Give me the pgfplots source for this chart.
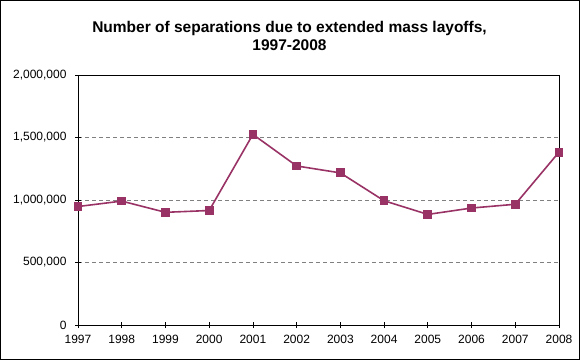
\documentclass[border=0pt]{standalone}
\usepackage{pgfplots}
\pgfplotsset{compat=1.18}
\usepackage{fontspec}
\setmainfont{Liberation Sans}
\definecolor{serie}{HTML}{993366}
\definecolor{gridc}{HTML}{808080}
\begin{document}
\begin{tikzpicture}[x=1pt,y=1pt]
\draw[line width=1pt] (0.5,0.5) rectangle (579.5,359.5);
\node[font=\fontsize{15.5}{18}\selectfont\bfseries, anchor=base, inner sep=0pt] at (289.5,328) {Number of separations due to extended mass layoffs,};
\node[font=\fontsize{15.5}{18}\selectfont\bfseries, anchor=base, inner sep=0pt] at (289.5,310) {1997-2008};
\begin{axis}[at={(78pt,35pt)}, anchor=south west, scale only axis,
  width=481pt, height=250pt,
  xmin=1997, xmax=2008, ymin=0, ymax=2000000,
  xtick={1997,1998,...,2008}, ytick={0,500000,1000000,1500000,2000000},
  scaled y ticks=false,
  tick align=center, tickpos=left, major tick length=6pt,
  tick style={black, line width=0.8pt},
  axis line style={black, line width=0.9pt},
  ymajorgrids, grid style={gridc, dash pattern=on 4pt off 3pt, line width=0.8pt},
  xticklabel style={/pgf/number format/.cd, 1000 sep={}, /pgf/number format/assume math mode=true},
  yticklabel style={/pgf/number format/.cd, fixed, 1000 sep={,}, /pgf/number format/assume math mode=true},
  tick label style={font=\fontsize{12}{14}\selectfont},
  xticklabel shift=4pt, yticklabel shift=5pt,
  clip=false,
]
\addplot[serie, line width=1.6pt, mark=square*, mark size=3.6pt, mark options={serie, solid}] coordinates {
(1997,947843) (1998,991245) (1999,901451) (2000,915962) (2001,1524832) (2002,1272331)
(2003,1216886) (2004,993909) (2005,884661) (2006,935805) (2007,965935) (2008,1383207)
};
\end{axis}
\end{tikzpicture}
\end{document}
